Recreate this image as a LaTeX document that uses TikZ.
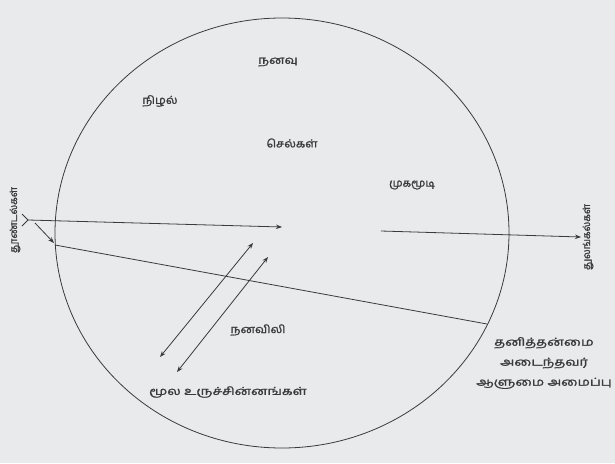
\documentclass[tikz,border=0pt]{standalone}
\usepackage{fontspec}
\usepackage{graphicx}
\newfontfamily\tamil[Script=Tamil, FakeBold=1.3]{Hind Madurai}
\usetikzlibrary{arrows.meta}
\definecolor{bg}{HTML}{E9EAEC}
\definecolor{ink}{HTML}{3A3A3A}
\newcommand\wide[2]{\scalebox{#1}[1]{#2}}
\tikzset{
  lbl/.style={font=\tamil\fontsize{11}{20}\selectfont, text=ink, inner sep=1pt},
  vlbl/.style={font=\tamil\fontsize{10}{12}\selectfont, text=ink, inner sep=1pt, rotate=90},
  ln/.style={draw=ink, line width=0.8pt},
  arr/.style={ln, -{Stealth[length=6pt,width=4.5pt]}},
  darr/.style={ln, {Stealth[length=6pt,width=4.5pt]}-{Stealth[length=6pt,width=4.5pt]}}
}
\begin{document}
\begin{tikzpicture}[x=1pt,y=-1pt]
\fill[bg] (0,0) rectangle (615,463);
\useasboundingbox (0,0) rectangle (615,463);
% psyche
\draw[ln] (282,233) ellipse [x radius=227, y radius=215];
% named points
\coordinate (s0) at (28,220);
\coordinate (s1) at (282,227);
\coordinate (t0) at (35,223);
\coordinate (t1) at (54,243);
\coordinate (c0) at (55,245);
\coordinate (c1) at (487,324);
\coordinate (r0) at (381,231);
\coordinate (r1) at (581,237);
\coordinate (a0) at (160,357);
\coordinate (a1) at (253,243);
\coordinate (b0) at (177,372);
\coordinate (b1) at (268,257);
% connectors
\draw[arr] (s0) -- (s1);
\draw[ln] (s0) ++(-6,-6) -- (s0) -- ++(-6,6);
\draw[arr] (t0) -- (t1);
\draw[ln] (c0) -- (c1);
\draw[arr] (r0) -- (r1);
\draw[darr] (a0) -- (a1);
\draw[darr] (b0) -- (b1);
% labels
\node[lbl] (nanavu) at (278,62) {\wide{1.2}{நனவு}};
\node[lbl] (nizhal) at (160,101) {\wide{1.1}{நிழல்}};
\node[lbl] (selkal) at (292,143) {\wide{1.1}{செல்கள்}};
\node[lbl] (mukam) at (412,185) {\wide{1.0}{முகமூடி}};
\node[vlbl] (stim) at (15,220) {தூண்டல்கள்};
\node[vlbl] (resp) at (588,237) {துலங்கல்கள்};
\node[lbl] (nanavili) at (258,330) {\wide{1.12}{நனவிலி}};
\node[lbl] (arche) at (228,392) {\wide{1.27}{மூல உருச்சின்னங்கள்}};
\node[lbl, align=center] (indiv) at (544,363) {\wide{1.3}{தனித்தன்மை}\\\wide{1.3}{அடைந்தவர்}\\\wide{1.25}{ஆளுமை அமைப்பு}};
\end{tikzpicture}
\end{document}
